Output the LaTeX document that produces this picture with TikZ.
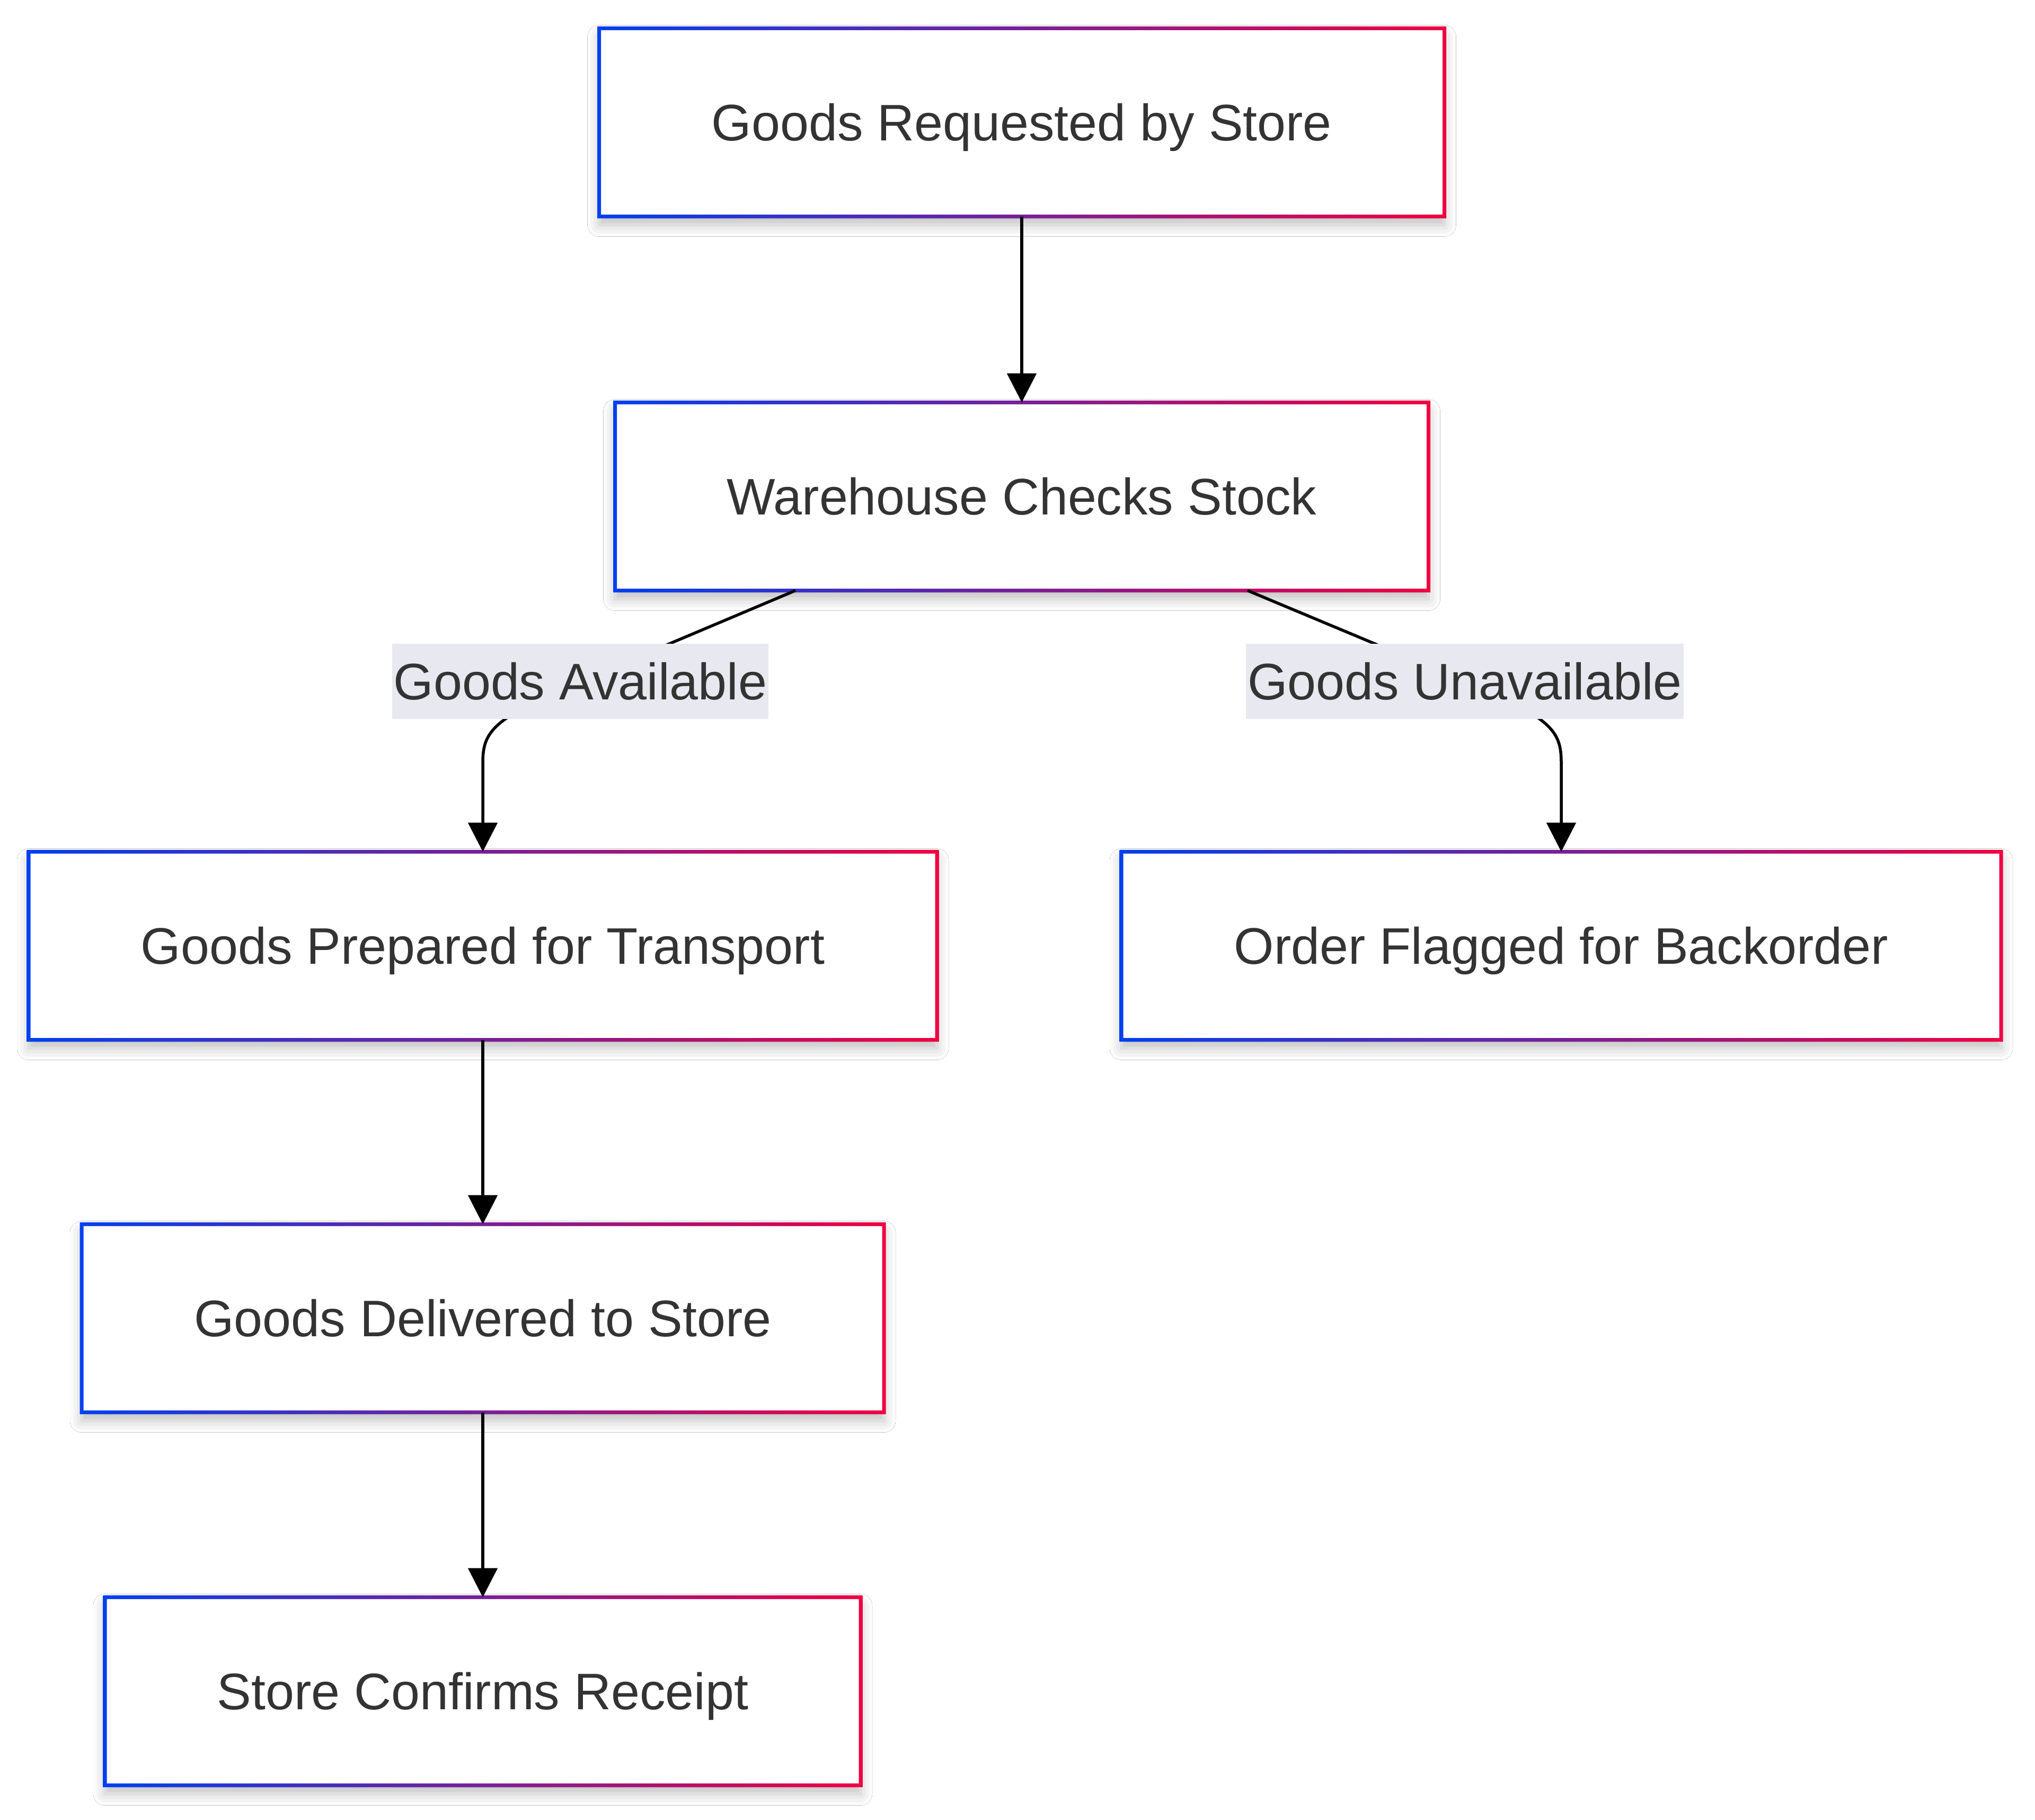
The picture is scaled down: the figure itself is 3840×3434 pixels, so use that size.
\documentclass[tikz,border=0pt]{standalone}
\usepackage{fontspec}
\setmainfont{Liberation Sans}
\usetikzlibrary{arrows.meta,shadows.blur,calc}
\definecolor{txt}{HTML}{333333}
\definecolor{gl}{HTML}{0040F0}
\definecolor{gr}{HTML}{F00040}
\definecolor{lblfill}{HTML}{E8E8F0}
\newcommand\gradborder[1]{%
  \shade[left color=gl,right color=gr,even odd rule]
    ($(#1.south west)+(-3.5pt,-3.5pt)$) rectangle ($(#1.north east)+(3.5pt,3.5pt)$)
    ($(#1.south west)+(3.5pt,3.5pt)$) rectangle ($(#1.north east)+(-3.5pt,-3.5pt)$);}
\tikzset{
  box/.style={rectangle, fill=white, draw=none, outer sep=0pt, minimum height=355pt,
    text=txt, text height=69pt, text depth=0pt,
    blur shadow={shadow xshift=0pt, shadow yshift=-16pt, shadow blur radius=22pt, shadow opacity=25}},
  lbl/.style={rectangle, fill=lblfill, text=txt, text height=69pt, text depth=0pt,
    inner xsep=3pt, inner ysep=0pt, minimum height=142pt},
  arr/.style={draw=black, line width=5.5pt, -{Triangle[length=55pt,width=55pt]}}
}
\begin{document}
\begin{tikzpicture}[x=1pt, y=-1pt, font=\fontsize{97}{116}\selectfont]
\useasboundingbox[fill=white] (0,0) rectangle (3840,3434);
% nodes
\node[box, minimum width=1595pt] (n1) at (1928,231) {Goods Requested by Store};
\node[box, minimum width=1535pt] (n2) at (1928,937) {Warehouse Checks Stock};
\node[box, minimum width=1714pt] (n3) at (911,1785) {Goods Prepared for Transport};
\node[box, minimum width=1660pt] (n4) at (2946,1785) {Order Flagged for Backorder};
\node[box, minimum width=1514pt] (n5) at (911,2488) {Goods Delivered to Store};
\node[box, minimum width=1426pt] (n6) at (911,3192) {Store Confirms Receipt};
\foreach \n in {n1,n2,n3,n4,n5,n6} {\gradborder{\n}}
% label centres
\coordinate (cla) at (1095,1286);
\coordinate (clb) at (2764,1286);
% edges
\draw[arr] (n1.south) -- (n2.north);
\draw[arr] ($(n2.south)+(-427pt,0pt)$) -- (cla) .. controls (930,1356) and (911,1380) .. (911,1440) -- (n3.north);
\draw[arr] ($(n2.south)+(426pt,0pt)$) -- (clb) .. controls (2929,1355) and (2946,1380) .. (2946,1440) -- (n4.north);
\draw[arr] (n3.south) -- (n5.north);
\draw[arr] (n5.south) -- (n6.north);
% labels
\node[lbl] (la) at (cla) {Goods Available};
\node[lbl] (lb) at (clb) {Goods Unavailable};
\end{tikzpicture}
\end{document}
